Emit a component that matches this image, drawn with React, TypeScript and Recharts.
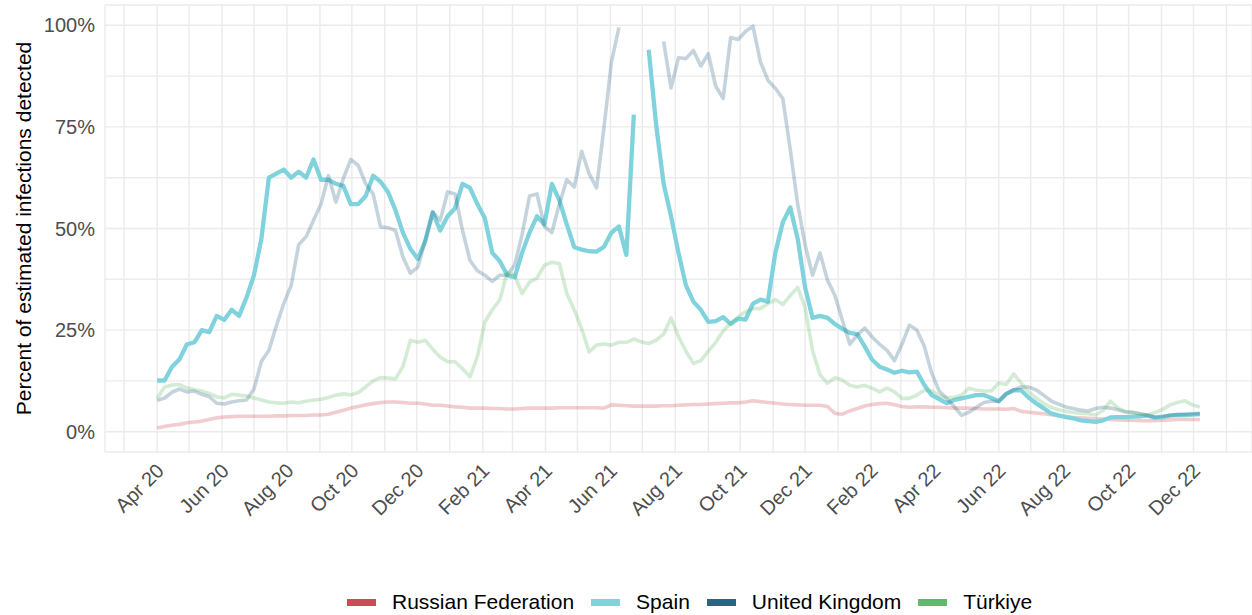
import { LineChart, Line, XAxis, YAxis, CartesianGrid } from "recharts";

// weekly estimates, first point = 1 Apr 2020, last = 7 Dec 2022
const START = Date.UTC(2020, 3, 1);
const DAY = 86400000;

const russia = [
  0.9, 1.3, 1.6, 1.8, 2.2, 2.4, 2.6, 3.0, 3.4, 3.6, 3.7, 3.8, 3.8, 3.8, 3.8, 3.8, 3.9, 3.9, 4.0, 4.0,
  4.0, 4.1, 4.1, 4.3, 4.8, 5.3, 5.8, 6.2, 6.6, 6.9, 7.2, 7.3, 7.3, 7.2, 7.0, 7.0, 6.8, 6.5, 6.5, 6.3,
  6.1, 6.0, 5.8, 5.8, 5.8, 5.7, 5.7, 5.6, 5.6, 5.7, 5.8, 5.8, 5.8, 5.8, 5.9, 5.9, 5.9, 5.9, 5.9, 5.9,
  5.8, 6.6, 6.5, 6.4, 6.3, 6.3, 6.3, 6.3, 6.4, 6.4, 6.5, 6.6, 6.7, 6.7, 6.8, 6.9, 7.0, 7.1, 7.1, 7.3,
  7.6, 7.4, 7.2, 7.0, 6.8, 6.7, 6.6, 6.5, 6.5, 6.5, 6.2, 4.5, 4.3, 5.1, 5.7, 6.3, 6.7, 6.9, 7.0, 6.6,
  6.2, 6.0, 6.1, 6.1, 6.0, 6.0, 5.9, 5.8, 5.8, 5.8, 5.7, 5.6, 5.6, 5.6, 5.5, 5.7, 5.0, 4.8, 4.6, 4.4,
  4.2, 4.0, 3.8, 3.5, 3.4, 3.3, 3.2, 3.1, 3.0, 2.9, 2.8, 2.8, 2.7, 2.7, 2.7, 2.8, 2.9, 3.0, 3.0, 3.0,
  3.0,
];

const spain = [
  12.6, 12.6, 16, 17.8, 21.5, 22, 25, 24.5, 28.5, 27.5, 30, 28.5, 33, 38.5, 47.5, 62.5, 63.5, 64.5, 62.5, 64,
  62.5, 67, 62, 62, 61, 60.5, 56, 56, 58, 63, 61.5, 59, 54.5, 49, 45, 42.5, 47, 54, 49.5, 53,
  55, 61, 60, 56, 52.5, 44, 42, 38.5, 38, 44, 49, 53, 51, 61, 57, 51, 45.4, 44.8, 44.4, 44.3,
  45.5, 49, 50.5, 43.5, 78, null, 94, 75.5, 61, 53, 44, 36, 32, 30, 27, 27.2, 28.2, 26.5, 27.8, 27.6,
  31.5, 32.5, 32, 44, 51.5, 55.2, 47.5, 35.5, 28, 28.5, 28, 26.5, 25.3, 24.3, 24, 21, 17.7, 16, 15.3, 14.5,
  15, 14.6, 14.8, 11.5, 9, 8, 7, 7.8, 8.2, 8.6, 9, 9, 8.3, 7.5, 9.3, 10.2, 10.2, 8.4, 7, 5.8,
  4.5, 4, 3.6, 3.3, 2.8, 2.6, 2.4, 2.8, 3.5, 3.6, 3.6, 3.7, 3.8, 4, 3.4, 3.6, 4, 4.1, 4.1, 4.2,
  4.3,
];

const unitedKingdom = [
  7.7, 8.3, 9.7, 10.5, 9.8, 10, 9.2, 8.6, 7, 6.8, 7.3, 7.6, 7.8, 10.5, 17.3, 20, 26, 31.5, 36, 46,
  48, 52, 56, 63, 56.5, 62.3, 67, 65.5, 61, 58.5, 50.4, 50.2, 49.5, 43, 39, 40.5, 47, 54, 52, 59,
  58.5, 49.5, 42.2, 39.6, 38.5, 37, 38.5, 38.5, 41, 48.5, 58, 58.5, 50.5, 49, 56, 62, 60.2, 69, 63.5, 60,
  75, 91, 99.5, null, null, null, null, null, 96, 84.6, 92, 91.8, 93.8, 90, 93, 85, 82, 97, 96.5, 98.5,
  99.8, 91, 86.5, 84.5, 82, 69.5, 56, 46, 38.5, 44, 37.3, 33.5, 27.4, 21.5, 23.8, 25.5, 23.3, 21.5, 20, 17.5,
  21.5, 26.2, 25, 21, 14.4, 10, 8.2, 6.2, 4, 4.8, 6, 7.2, 7.5, 7.5, 9.3, 10.3, 11, 11, 10.3, 9,
  7.6, 6.8, 6.1, 5.7, 5.3, 5.1, 5.7, 6, 5.8, 5.4, 4.9, 4.7, 4.4, 4, 3.6, 3.8, 4, 4.2, 4.3, 4.4,
  4.5,
];

const turkiye = [
  8.2, 11, 11.5, 11.6, 10.8, 10.3, 10, 9.4, 8.6, 8.3, 9.2, 9, 8.8, 8.3, 7.8, 7.3, 7.1, 7, 7.3, 7.1,
  7.5, 7.8, 8, 8.4, 9, 9.3, 9.1, 9.6, 11, 12.5, 13.3, 13.2, 13, 16, 22.5, 22, 22.5, 20.3, 18.4, 17.2,
  17.2, 15.5, 13.5, 18.5, 27, 30, 32.4, 39.2, 38.5, 34, 36.8, 37.8, 41, 41.7, 41.4, 34, 30, 25.3, 19.6, 21.3,
  21.6, 21.3, 22, 22, 22.8, 22.1, 21.7, 22.5, 24, 28, 23.4, 19.8, 16.8, 17.5, 19.8, 22, 24.8, 26.7, 28.2, 29.5,
  30.3, 30.3, 31.5, 32.5, 31.3, 33.5, 35.5, 30.5, 20, 14, 11.9, 13.3, 12.7, 11.4, 11, 11.4, 10.7, 9.8, 10.7, 9.8,
  8.2, 8.2, 9, 10.2, 10, 8.9, 8.4, 8.4, 9, 10.7, 10.2, 10, 10, 12, 11.6, 14.2, 12, 9.8, 8.3, 7,
  6, 5.4, 5, 4.7, 4.5, 4.4, 4.1, 5.2, 7.5, 5.8, 4.9, 4.8, 4.4, 4.1, 4.7, 5.5, 6.6, 7.2, 7.6, 6.6,
  6.1,
];

const xLabels = [
  "Apr 20", "Jun 20", "Aug 20", "Oct 20", "Dec 20", "Feb 21", "Apr 21", "Jun 21", "Aug 21",
  "Oct 21", "Dec 21", "Feb 22", "Apr 22", "Jun 22", "Aug 22", "Oct 22", "Dec 22",
];
const yTicks = [0, 12.5, 25, 37.5, 50, 62.5, 75, 87.5, 100];

const FONT = "'Liberation Sans', Arial, Helvetica, sans-serif";

const series = [
  { key: "russia", name: "Russian Federation", color: "#CB4B56", opacity: 0.28, width: 3.6 },
  { key: "spain", name: "Spain", color: "#80D3DD", opacity: 1, width: 4.3 },
  { key: "unitedKingdom", name: "United Kingdom", color: "#2D6382", opacity: 0.28, width: 3.6 },
  { key: "turkiye", name: "Türkiye", color: "#64B86D", opacity: 0.28, width: 3.6 },
];

const data = russia.map((r, i) => ({
  day: i * 7,
  russia: r,
  spain: spain[i],
  unitedKingdom: unitedKingdom[i],
  turkiye: turkiye[i],
}));

// one gridline per month, Mar 20 .. Jan 23; every other one is labelled
const monthTicks = Array.from({ length: 35 }, (_, k) => (Date.UTC(2020, 2 + k, 1) - START) / DAY);

function XTick({ x, y, payload }: any) {
  const k = monthTicks.indexOf(payload.value);
  if (k % 2 !== 1) return null;
  const tx = x + 8;
  const ty = y + 18;
  return (
    <text
      x={tx}
      y={ty}
      transform={`rotate(-45 ${tx} ${ty})`}
      textAnchor="end"
      fontSize={20}
      fill="#4D4D4D"
      fontFamily={FONT}
    >
      {xLabels[(k - 1) / 2]}
    </text>
  );
}

export default function App() {
  return (
    <div style={{ position: "relative", width: 1252, height: 615, fontFamily: FONT, background: "#fff" }}>
      <style>{`body{margin:0;background:#fff}`}</style>
      <LineChart width={1252} height={615} data={data} margin={{ top: 5, right: 0, left: 0, bottom: 63 }}>
        <CartesianGrid stroke="#EBEBEB" strokeWidth={1.4} />
        <XAxis
          dataKey="day"
          type="number"
          domain={[-49, 1029]}
          ticks={monthTicks}
          interval={0}
          tick={<XTick />}
          axisLine={false}
          tickLine={false}
          tickSize={0}
          height={100}
          allowDataOverflow
        />
        <YAxis
          type="number"
          domain={[-5, 105]}
          ticks={yTicks}
          interval={0}
          tickFormatter={(v: number) => (v % 25 === 0 ? `${v}%` : "")}
          axisLine={false}
          tickLine={false}
          tickSize={0}
          tickMargin={10}
          width={105}
          tick={{ fontSize: 20, fill: "#4D4D4D", fontFamily: FONT }}
          allowDataOverflow
          label={{
            value: "Percent of estimated infections detected",
            angle: -90,
            position: "insideLeft",
            offset: 24,
            style: { textAnchor: "middle", fontSize: 21, fill: "#000", fontFamily: FONT },
          }}
        />
        {series.map((s) => (
          <Line
            key={s.key}
            type="linear"
            dataKey={s.key}
            name={s.name}
            stroke={s.color}
            strokeOpacity={s.opacity}
            strokeWidth={s.width}
            strokeLinejoin="round"
            dot={false}
            activeDot={false}
            isAnimationActive={false}
          />
        ))}
      </LineChart>
      <div
        style={{
          position: "absolute",
          top: 590,
          left: 347,
          display: "flex",
          alignItems: "center",
          height: 24,
          fontSize: 21,
          lineHeight: "24px",
          color: "#000",
        }}
      >
        {series.map((s) => (
          <div key={s.key} style={{ display: "flex", alignItems: "center", marginRight: 17 }}>
            <div style={{ width: 29, height: 7, background: s.color, marginRight: 16 }} />
            <span>{s.name}</span>
          </div>
        ))}
      </div>
    </div>
  );
}
